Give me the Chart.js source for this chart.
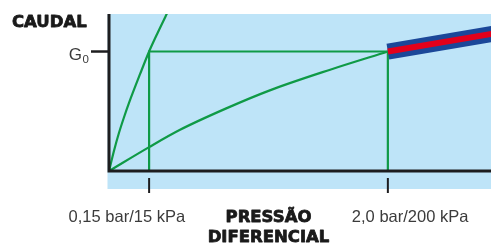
<!DOCTYPE html>
<html>
<head>
<meta charset="utf-8">
<script src="https://cdn.jsdelivr.net/npm/chart.js@4.4.0/dist/chart.umd.min.js"></script>
<style>
  html, body { margin: 0; padding: 0; background: #fff; }
  canvas { display: block; }
</style>
</head>
<body>
<canvas id="flowChart" width="491" height="244"></canvas>
<script>
// --- Data: x = position along the (schematic) pressure axis, y = flow with G0 = 1 ---
const pressureTicks = [10.5, 73];
const pressureLabels = ['0,15 bar/15 kPa', '2,0 bar/200 kPa'];
const flowTick = 1;
const flowLabel = 'G';
const flowLabelSub = '0';
const axisTitleY = 'CAUDAL';
const axisTitleX = ['PRESSÃO', 'DIFERENCIAL'];

// steep curve (reaches G0 at 0,15 bar)
const steepX = [0, 1.31, 2.62, 3.93, 5.24, 8.12, 10.5, 12.6, 15.2, 16.5];
const steepY = [0, 0.17, 0.32, 0.45, 0.57, 0.81, 1.0, 1.147, 1.32, 1.405];

// shallow curve (reaches G0 at 2,0 bar)
const shallowX = [0, 10.5, 18.6, 30.4, 42.1, 57.9, 73];
const shallowY = [0, 0.2, 0.345, 0.52, 0.675, 0.848, 1.0];

// guide lines
const guideX = [10.5, 10.5, 73, 73];
const guideY = [0, 1, 1, 0];

// operating band beyond 2,0 bar
const bandX = [73, 102];
const bandY = [1.0, 1.157];

const toPoints = (xs, ys) => xs.map((x, i) => ({ x: x, y: ys[i] }));

const GREEN = '#0f9a46';

const panelPlugin = {
    id: 'panel',
    beforeDatasetsDraw(chart) {
        const { ctx, chartArea: a } = chart;
        ctx.save();
        ctx.fillStyle = '#bee4f8';
        ctx.fillRect(a.left - 1.5, a.top, a.right - a.left + 1.5, a.bottom - a.top + 18);
        ctx.restore();
    },
    afterDatasetsDraw(chart) {
        const { ctx, chartArea: a, scales } = chart;
        const xs = scales.x, ys = scales.y;
        ctx.save();

        // axes
        ctx.strokeStyle = '#1d1d1f';
        ctx.lineWidth = 3;
        ctx.beginPath();
        ctx.moveTo(a.left, a.top);
        ctx.lineTo(a.left, a.bottom);
        ctx.lineTo(a.right, a.bottom);
        ctx.stroke();

        // x ticks + labels (labels pushed away from the centred title)
        const tickPx = pressureTicks.map(v => xs.getPixelForValue(v));
        const mid = (tickPx[0] + tickPx[tickPx.length - 1]) / 2;
        ctx.lineWidth = 2;
        ctx.font = '16.5px "Liberation Sans", Arial, sans-serif';
        ctx.fillStyle = '#3b3b3b';
        ctx.textBaseline = 'alphabetic';
        tickPx.forEach((px, i) => {
            ctx.beginPath();
            ctx.moveTo(px, a.bottom + 7);
            ctx.lineTo(px, a.bottom + 22);
            ctx.stroke();
            if (px < mid) {
                ctx.textAlign = 'right';
                ctx.fillText(pressureLabels[i], px + 36, a.bottom + 51);
            } else {
                ctx.textAlign = 'left';
                ctx.fillText(pressureLabels[i], px - 36, a.bottom + 51);
            }
        });

        // y tick G0
        const gy = ys.getPixelForValue(flowTick);
        ctx.lineWidth = 2.5;
        ctx.beginPath();
        ctx.moveTo(a.left - 18, gy);
        ctx.lineTo(a.left - 1, gy);
        ctx.stroke();
        ctx.font = '17px "Liberation Sans", Arial, sans-serif';
        ctx.textAlign = 'right';
        ctx.fillText(flowLabel, a.left - 27, gy + 8);
        ctx.font = '11.5px "Liberation Sans", Arial, sans-serif';
        ctx.textAlign = 'left';
        ctx.fillText(flowLabelSub, a.left - 26.5, gy + 11);

        // axis titles (heavy weight: fill + thin stroke)
        ctx.fillStyle = '#1a1a1a';
        ctx.strokeStyle = '#1a1a1a';
        ctx.lineWidth = 0.8;
        ctx.lineJoin = 'round';
        ctx.font = 'bold 16.5px "DejaVu Sans", sans-serif';
        const heavy = (t, x, y) => { ctx.fillText(t, x, y); ctx.strokeText(t, x, y); };
        ctx.textAlign = 'left';
        heavy(axisTitleY, 12, 27);
        ctx.textAlign = 'center';
        heavy(axisTitleX[0], mid, a.bottom + 51);
        heavy(axisTitleX[1], mid, a.bottom + 71);

        ctx.restore();
    }
};

new Chart(document.getElementById('flowChart'), {
    type: 'line',
    data: {
        datasets: [
            { data: toPoints(bandX, bandY), borderColor: '#e3001b', borderWidth: 6, borderCapStyle: 'butt' },
            { data: toPoints(bandX, bandY), borderColor: '#1b4799', borderWidth: 16, borderCapStyle: 'butt' },
            { data: toPoints(guideX, guideY), borderColor: GREEN, borderWidth: 2.2 },
            { data: toPoints(steepX, steepY), borderColor: GREEN, borderWidth: 2.2, cubicInterpolationMode: 'monotone' },
            { data: toPoints(shallowX, shallowY), borderColor: GREEN, borderWidth: 2.2, cubicInterpolationMode: 'monotone' }
        ]
    },
    options: {
        responsive: false,
        animation: false,
        clip: 0,
        layout: { padding: { left: 109, top: 14, right: 0, bottom: 73 } },
        elements: { point: { radius: 0 } },
        scales: {
            x: { type: 'linear', min: 0, max: 100, display: false },
            y: { type: 'linear', min: 0, max: 1.314, display: false }
        },
        plugins: {
            legend: { display: false },
            tooltip: { enabled: false }
        }
    },
    plugins: [panelPlugin]
});
</script>
</body>
</html>
